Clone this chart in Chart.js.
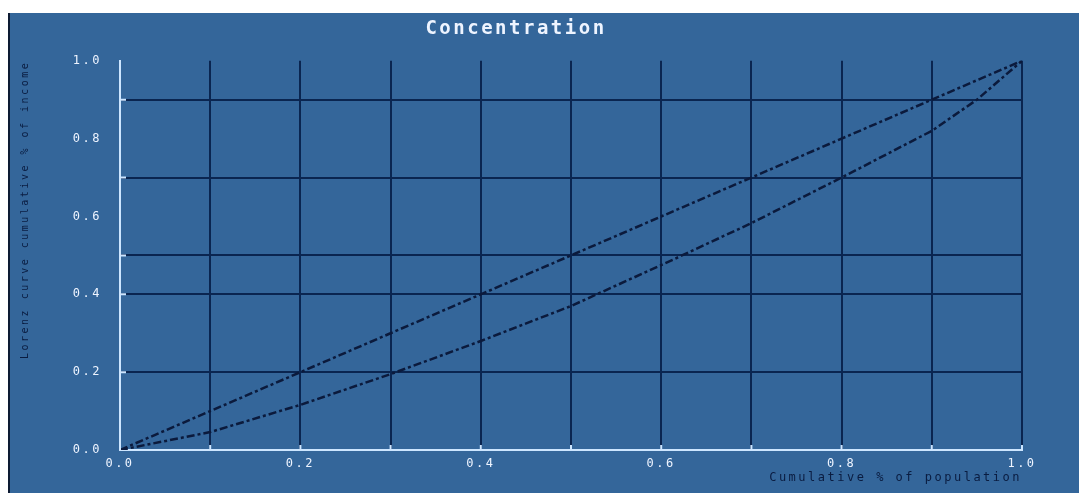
<!DOCTYPE html>
<html>
<head>
<meta charset="utf-8">
<script src="https://cdn.jsdelivr.net/npm/chart.js@4"></script>
<style>
  html, body { margin: 0; padding: 0; background: #ffffff; }
  #wrap {
    position: absolute; left: 8px; top: 13px;
    width: 1069px; height: 480px;
    background: #34669a;
    border-left: 2px solid #0d1b33;
  }
</style>
</head>
<body>
<div id="wrap"><canvas id="chart" width="1069" height="480"></canvas></div>
<script>
// population share (x) and cumulative shares (y)
const equalityX = [0, 0.1, 0.2, 0.3, 0.4, 0.5, 0.6, 0.7, 0.8, 0.9, 1.0];
const equalityY = [0, 0.1, 0.2, 0.3, 0.4, 0.5, 0.6, 0.7, 0.8, 0.9, 1.0];
const concX = [0, 0.1, 0.2, 0.3, 0.4, 0.5, 0.6, 0.7, 0.8, 0.85, 0.9, 0.95, 1.0];
const concY = [0, 0.046, 0.116, 0.195, 0.28, 0.37, 0.475, 0.583, 0.70, 0.76, 0.82, 0.90, 1.0];

const yTickValues = [0, 0.2, 0.4, 0.5, 0.6, 0.7, 0.8, 0.9, 1.0];
const yLabelValues = [0, 0.2, 0.4, 0.6, 0.8, 1.0];
const yGridValues = [0.2, 0.4, 0.5, 0.7, 0.9];

const gridDark = '#0a2550';
const axisLight = '#cde6ff';
const textLight = '#eef4ff';
const textDark = '#0a1c40';

const has = (arr, v) => arr.some(a => Math.abs(a - v) < 1e-6);

// wide letter spacing like the original bitmap font
const spacing = {
  id: 'spacing',
  beforeLayout(chart) { chart.ctx.letterSpacing = '2.5px'; },
  beforeDraw(chart) { chart.ctx.letterSpacing = '2.5px'; }
};

// small tick marks pointing into the plot
const innerTicks = {
  id: 'innerTicks',
  afterDraw(chart) {
    const {ctx, chartArea} = chart;
    const xs = chart.scales.x, ys = chart.scales.y;
    ctx.save();
    ctx.strokeStyle = axisLight;
    ctx.lineWidth = 2;
    ctx.beginPath();
    xs.ticks.forEach(t => {
      const px = xs.getPixelForValue(t.value);
      ctx.moveTo(px, chartArea.bottom);
      ctx.lineTo(px, chartArea.bottom - 5);
    });
    yGridValues.forEach(v => {
      const py = ys.getPixelForValue(v);
      ctx.moveTo(chartArea.left, py);
      ctx.lineTo(chartArea.left + 6, py);
    });
    ctx.stroke();
    ctx.restore();
  }
};

const lineStyle = {
  borderColor: '#0b1a3c',
  borderWidth: 2.5,
  borderDash: [8, 3, 3, 3],
  pointRadius: 0,
  tension: 0,
  fill: false
};

new Chart(document.getElementById('chart'), {
  type: 'line',
  data: {
    datasets: [
      Object.assign({ label: 'Equality', data: equalityX.map((x, i) => ({x: x, y: equalityY[i]})) }, lineStyle),
      Object.assign({ label: 'Concentration', data: concX.map((x, i) => ({x: x, y: concY[i]})) }, lineStyle)
    ]
  },
  plugins: [spacing, innerTicks],
  options: {
    responsive: false,
    animation: false,
    layout: { padding: { left: 0, right: 57, top: 0, bottom: 0 } },
    plugins: {
      legend: { display: false },
      tooltip: { enabled: false },
      title: {
        display: true,
        text: 'Concentration',
        color: textLight,
        font: { family: 'DejaVu Sans Mono', size: 19, weight: 'bold' },
        padding: { top: 5, bottom: 20 }
      }
    },
    scales: {
      x: {
        type: 'linear',
        min: 0, max: 1,
        afterFit(scale) { scale.height = 43; },
        ticks: {
          stepSize: 0.1,
          autoSkip: false,
          maxRotation: 0,
          padding: 7,
          color: textLight,
          font: { family: 'DejaVu Sans Mono', size: 12 },
          callback: v => (Math.round(v * 10) % 2 === 0 ? Number(v).toFixed(1) : '')
        },
        grid: {
          drawTicks: false,
          lineWidth: 2,
          color: ctx => (ctx.tick && ctx.tick.value > 0.001 ? gridDark : 'rgba(0,0,0,0)')
        },
        border: { color: axisLight, width: 2 },
        title: {
          display: true,
          text: 'Cumulative % of population',
          align: 'end',
          color: textDark,
          font: { family: 'DejaVu Sans Mono', size: 12 },
          padding: { top: 0, bottom: 8 }
        }
      },
      y: {
        type: 'linear',
        min: 0, max: 1,
        afterFit(scale) { scale.width = 110; },
        afterBuildTicks(scale) { scale.ticks = yTickValues.map(v => ({value: v})); },
        ticks: {
          autoSkip: false,
          padding: 18,
          color: textLight,
          font: { family: 'DejaVu Sans Mono', size: 12 },
          callback: v => (has(yLabelValues, v) ? Number(v).toFixed(1) : '')
        },
        grid: {
          drawTicks: false,
          lineWidth: 2,
          color: ctx => (ctx.tick && has(yGridValues, ctx.tick.value) ? gridDark : 'rgba(0,0,0,0)')
        },
        border: { color: axisLight, width: 2 },
        title: {
          display: true,
          text: 'Lorenz curve cumulative % of income',
          align: 'end',
          color: textDark,
          font: { family: 'DejaVu Sans Mono', size: 10 },
          padding: { top: 9, bottom: 0 }
        }
      }
    }
  }
});
</script>
</body>
</html>
